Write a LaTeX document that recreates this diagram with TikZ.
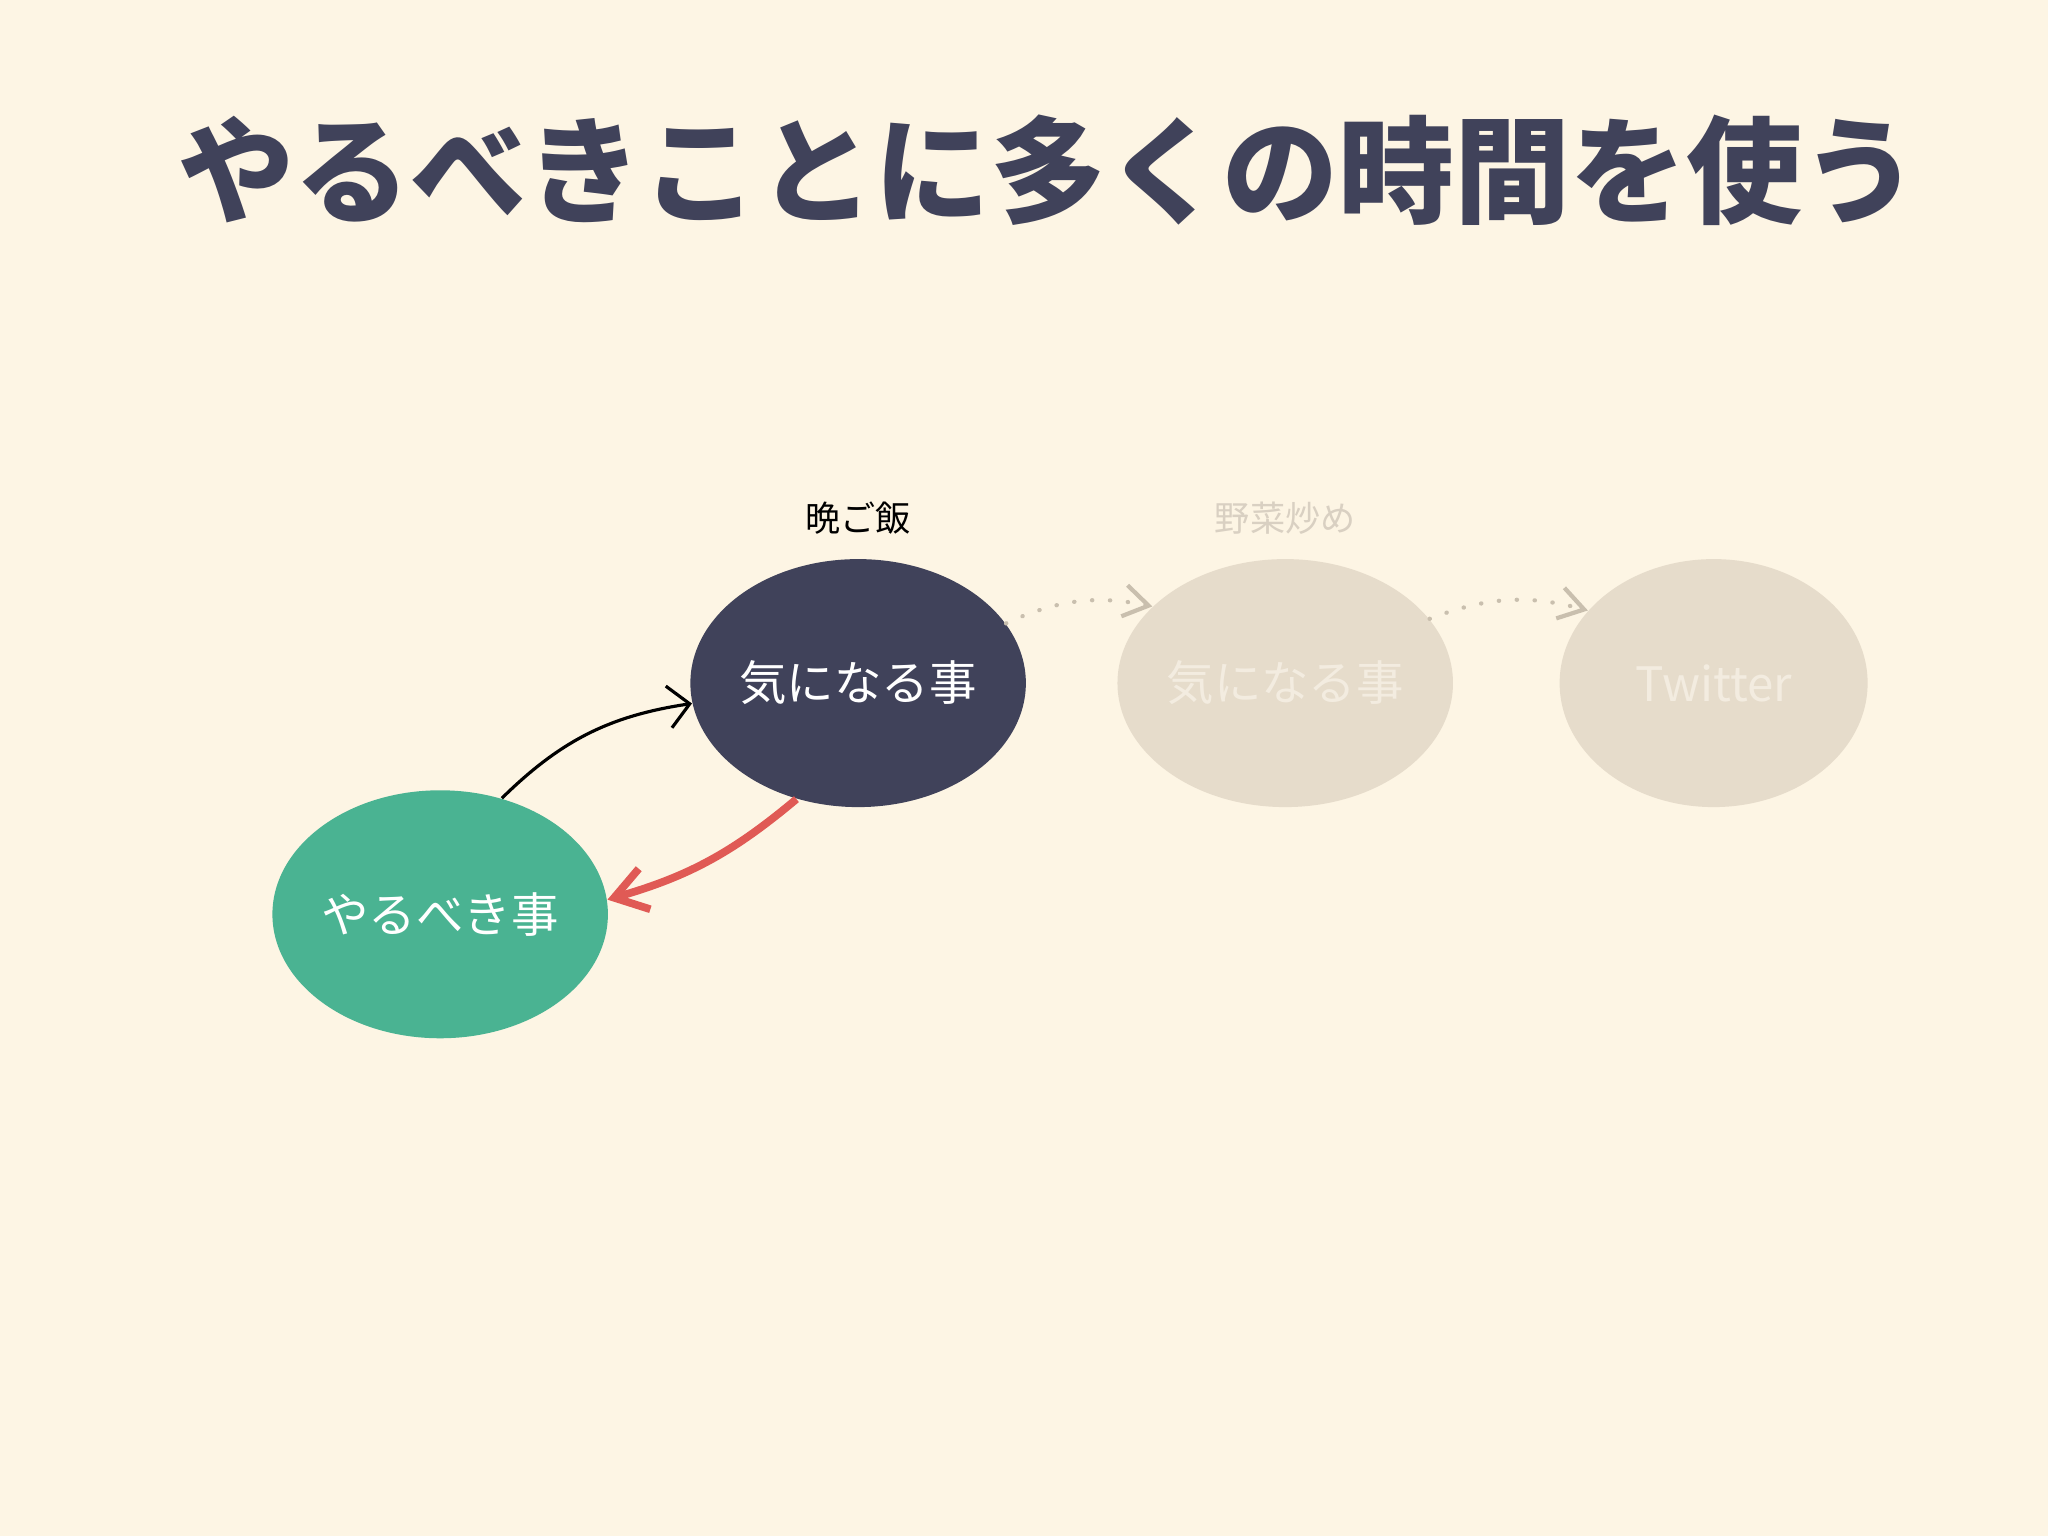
\documentclass[tikz,border=0pt]{standalone}
\usepackage{fontspec}
\setmainfont{Noto Sans CJK JP}
\newfontfamily\jpb[FakeBold=0]{Noto Sans CJK JP Bold}
\usetikzlibrary{shapes.geometric,arrows.meta}
\definecolor{bg}{HTML}{FDF5E4}
\definecolor{navy}{HTML}{40425A}
\definecolor{grn}{HTML}{4AB392}
\definecolor{beige}{HTML}{E6DCCB}
\definecolor{beigetxt}{HTML}{F3ECE0}
\definecolor{lbl}{HTML}{D9D0C2}
\definecolor{dots}{HTML}{C9BFAE}
\definecolor{redarr}{HTML}{E05A55}
\begin{document}
\begin{tikzpicture}[x=0.01306cm,y=-0.01306cm,
  bub/.style={ellipse,minimum width=3.08cm,minimum height=2.48cm,inner sep=0pt,font=\fontsize{13.5}{16}\selectfont},
  lab/.style={font=\fontsize{10}{12}\selectfont}]
\fill[bg] (0,0) rectangle (1568,1176);
\useasboundingbox (0,0) rectangle (1568,1176);
\node[text=navy,font=\fontsize{33}{38}\selectfont\bfseries] (title) at (803,130) {やるべきことに多くの時間を使う};
\node[lab] (l1) at (657,397) {晩ご飯};
\node[lab,text=lbl] (l2) at (984,397) {野菜炒め};
\node[bub,fill=navy,text=white] (d) at (657,523) {気になる事};
\node[bub,fill=beige,text=beigetxt] (b) at (984,523) {気になる事};
\node[bub,fill=beige,text=beigetxt] (t) at (1312,523) {Twitter};
\node[bub,fill=grn,text=white] (g) at (337,700) {やるべき事};
\draw[-{Straight Barb[length=6pt]},line width=0.9pt] (g.62) to[bend left=18] (d.187);
\draw[-{Straight Barb[length=9pt,width=12pt]},redarr,line width=2.2pt] (d.242) to[bend left=12] (g.5);
\draw[-{Straight Barb[length=7pt,width=9pt]},dots,line width=1.2pt,dash pattern=on 0.1pt off 5pt,line cap=round] (d.22) to[bend left=18] (b.150);
\draw[-{Straight Barb[length=7pt,width=9pt]},dots,line width=1.2pt,dash pattern=on 0.1pt off 5pt,line cap=round] (b.24) to[bend left=18] (t.150);
\end{tikzpicture}
\end{document}
